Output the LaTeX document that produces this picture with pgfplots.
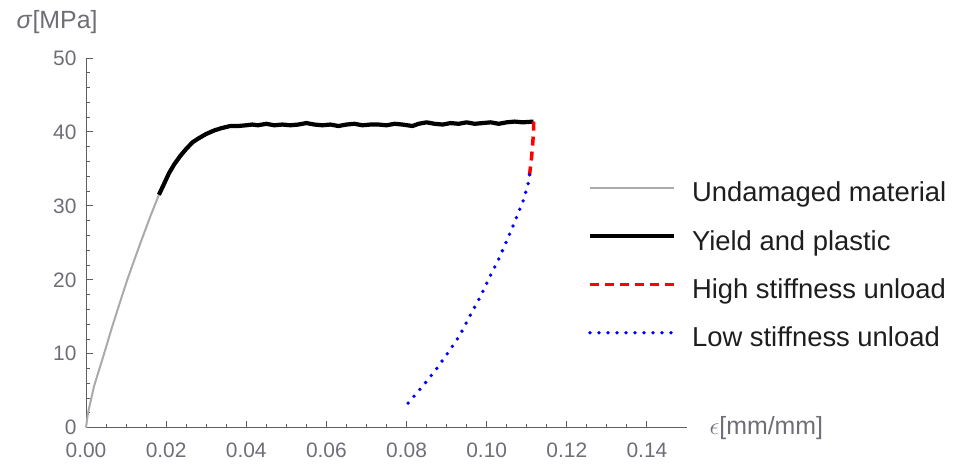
\documentclass[border=0pt]{standalone}
\usepackage{fontspec}
\setmainfont{Liberation Sans}
\usepackage{pgfplots}
\pgfplotsset{compat=1.18}
\definecolor{tickgray}{RGB}{110,110,118}
\definecolor{axgray}{RGB}{95,95,95}
\definecolor{undgray}{RGB}{170,170,170}
\definecolor{legtext}{RGB}{30,30,30}
\begin{document}
\begin{tikzpicture}
\path[use as bounding box] (0,0) rectangle (953bp,464bp);
\begin{axis}[
  at={(86bp,36.3bp)}, anchor=south west,
  scale only axis, width=601bp, height=369.7bp,
  xmin=0, xmax=0.15, ymin=0, ymax=50,
  axis lines=left,
  axis line style={-, draw=axgray, line width=1bp},
  xtick={0,0.02,0.04,0.06,0.08,0.10,0.12,0.14},
  ytick={0,10,20,30,40,50},
  minor x tick num=3, minor y tick num=4,
  tick align=inside,
  major tick length=7bp, minor tick length=4bp,
  tick style={draw=axgray, line width=0.9bp},
  scaled x ticks=false,
  ticklabel style={font=\fontsize{21}{21}\selectfont, text=tickgray},
  xticklabel style={yshift=-12bp, /pgf/number format/.cd, fixed, fixed zerofill, precision=2, assume math mode=true},
  yticklabel style={xshift=-6bp, /pgf/number format/assume math mode=true},
  xlabel={$\epsilon$[mm/mm]},
  ylabel={\textit{σ}[MPa]},
  x label style={at={(axis description cs:1.132,0)}, anchor=center, font=\fontsize{25}{25}\selectfont, text=tickgray},
  y label style={at={(axis description cs:-0.048,1.097)}, anchor=center, rotate=-90, font=\fontsize{25}{25}\selectfont, text=tickgray},
  clip=false,
  legend cell align=left,
  legend style={draw=none, fill=none, inner sep=0pt, outer sep=0pt,
    at={(axis description cs:0.835,0.665)}, anchor=north west,
    font=\fontsize{27.5}{27.5}\selectfont, text=legtext,
    row sep=22.3bp,
    nodes={inner sep=0pt, text height=20bp, text depth=6bp},
    /tikz/every odd column/.style={column sep=16bp}},
  legend image code/.code={\draw[#1] (0bp,7bp) -- (84bp,7bp);},
]
% Undamaged material
\addplot[undgray, line width=2bp, line join=round] coordinates {
(0,0) (0.0005,2.0) (0.0020,5.6) (0.0044,9.8) (0.0065,13.6) (0.0085,17.0) (0.0103,20.0)
(0.0120,22.6) (0.0136,25.0) (0.0160,28.5) (0.0182,31.5)
};
\addlegendentry{Undamaged material}
% Yield and plastic
\addplot[black, line width=4.2bp, line join=round] coordinates {
(0.0182,31.5) (0.0195,33.0) (0.0207,34.4) (0.0220,35.6) (0.0236,36.8) (0.0250,37.7)
(0.0266,38.6) (0.0280,39.1) (0.0299,39.7) (0.0320,40.2) (0.0337,40.5) (0.0360,40.8)
(0.0379,40.8) (0.0400,40.9) (0.0415,41.0) (0.0429,40.9) (0.0450,41.1) (0.0470,40.9)
(0.0490,41.0) (0.0510,40.9) (0.0530,41.0) (0.0550,41.2) (0.0570,41.0) (0.0590,40.9)
(0.0610,41.0) (0.0630,40.8) (0.0650,41.0) (0.0670,41.1) (0.0690,40.9) (0.0710,41.0)
(0.0730,41.0) (0.0750,40.9) (0.0770,41.1) (0.0790,41.0) (0.0815,40.8) (0.0830,41.1)
(0.0850,41.3) (0.0870,41.1) (0.0890,41.0) (0.0910,41.2) (0.0930,41.1) (0.0950,41.3)
(0.0970,41.1) (0.0990,41.2) (0.1010,41.3) (0.1030,41.1) (0.1050,41.3) (0.1070,41.4)
(0.1090,41.3) (0.1117,41.4)
};
\addlegendentry{Yield and plastic}
% High stiffness unload
\addplot[red, line width=3.5bp, dash pattern=on 9bp off 6bp] coordinates {
(0.1117,41.4) (0.1117,40.0) (0.1115,38.5) (0.1112,36.5) (0.1107,34.2)
};
\addlegendentry{High stiffness unload}
% Low stiffness unload
\addplot[blue, line width=3.8bp, line cap=round, dash pattern=on 0bp off 9bp] coordinates {
(0.1107,34.2) (0.1107,33.7) (0.1092,30.8) (0.1072,28.1) (0.1052,25.5) (0.1030,22.8)
(0.1006,20.2) (0.0983,17.6) (0.0958,15.1) (0.0933,12.5) (0.0903,10.1) (0.0874,7.9)
(0.0840,5.6) (0.0795,2.76)
};
\addlegendentry{Low stiffness unload}
\end{axis}
\end{tikzpicture}
\end{document}
